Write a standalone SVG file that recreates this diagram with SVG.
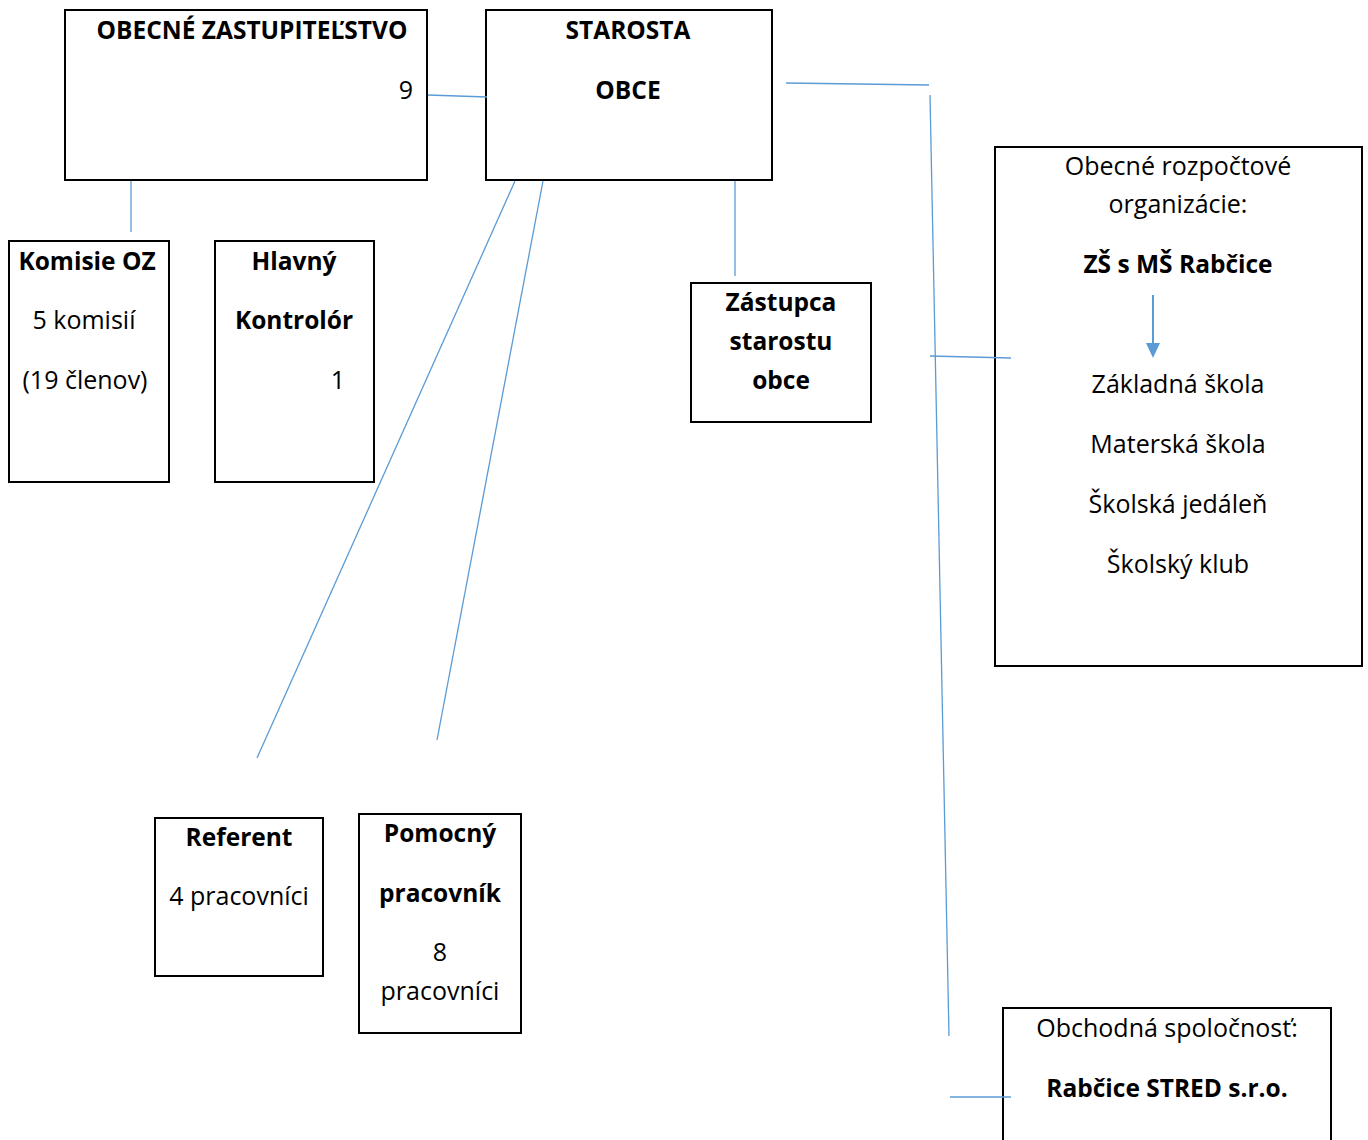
<svg xmlns="http://www.w3.org/2000/svg" width="1368" height="1140" viewBox="0 0 1368 1140">
<style>
.box{fill:#fff;stroke:#000;stroke-width:2}
text{font-family:"Open Sans","Noto Sans",sans-serif;font-size:25px;fill:#000;text-anchor:middle}
.b{font-weight:bold;font-size:24.5px}
.conn line{stroke:#5b9bd5;stroke-width:1.3}
</style>
<rect width="1368" height="1140" fill="#fff"/>
<g id="oz"><rect class="box" x="65" y="10" width="362" height="170"/>
<text class="b" x="252" y="39">OBECNÉ ZASTUPITEĽSTVO</text>
<text x="406" y="99">9</text></g>
<g id="starosta"><rect class="box" x="486" y="10" width="286" height="170"/>
<text class="b" x="628" y="39">STAROSTA</text>
<text class="b" x="628" y="99">OBCE</text></g>
<g id="komisie"><rect class="box" x="9" y="241" width="160" height="241"/>
<text class="b" x="87" y="270">Komisie OZ</text>
<text x="84" y="329">5 komisií</text>
<text x="85" y="389">(19 členov)</text></g>
<g id="kontrolor"><rect class="box" x="215" y="241" width="159" height="241"/>
<text class="b" x="294" y="270">Hlavný</text>
<text class="b" x="294" y="329">Kontrolór</text>
<text x="338" y="389">1</text></g>
<g id="zastupca"><rect class="box" x="691" y="283" width="180" height="139"/>
<text class="b" x="781" y="311">Zástupca</text>
<text class="b" x="781" y="350">starostu</text>
<text class="b" x="781" y="389">obce</text></g>
<g id="rozpoctove"><rect class="box" x="995" y="147" width="367" height="519"/>
<text x="1178" y="175">Obecné rozpočtové</text>
<text x="1178" y="213">organizácie:</text>
<text class="b" x="1178" y="273">ZŠ s MŠ Rabčice</text>
<line x1="1153" y1="295" x2="1153" y2="346" stroke="#5b9bd5" stroke-width="2"/>
<path d="M1146,343 L1160,343 L1153,358 Z" fill="#5b9bd5"/>
<text x="1178" y="393">Základná škola</text>
<text x="1178" y="453">Materská škola</text>
<text x="1178" y="513">Školská jedáleň</text>
<text x="1178" y="573">Školský klub</text></g>
<g id="referent"><rect class="box" x="155" y="818" width="168" height="158"/>
<text class="b" x="239" y="846">Referent</text>
<text x="239" y="905">4 pracovníci</text></g>
<g id="pomocny"><rect class="box" x="359" y="814" width="162" height="219"/>
<text class="b" x="440" y="842">Pomocný</text>
<text class="b" x="440" y="902">pracovník</text>
<text x="440" y="961">8</text>
<text x="440" y="1000">pracovníci</text></g>
<g id="obchodna"><rect class="box" x="1003" y="1008" width="328" height="140"/>
<text x="1167" y="1037">Obchodná spoločnosť:</text>
<text class="b" x="1167" y="1097">Rabčice STRED s.r.o.</text></g>
<g class="conn">
<line x1="428" y1="95" x2="487" y2="97"/>
<line x1="131" y1="181" x2="131" y2="232"/>
<line x1="735" y1="181" x2="735" y2="276"/>
<line x1="515" y1="181" x2="257" y2="758"/>
<line x1="543" y1="181" x2="437" y2="740"/>
<line x1="786" y1="83" x2="929" y2="85"/>
<line x1="930" y1="95" x2="949" y2="1036"/>
<line x1="930" y1="356" x2="1011" y2="358"/>
<line x1="950" y1="1097" x2="1011" y2="1097"/>
</g>
</svg>
